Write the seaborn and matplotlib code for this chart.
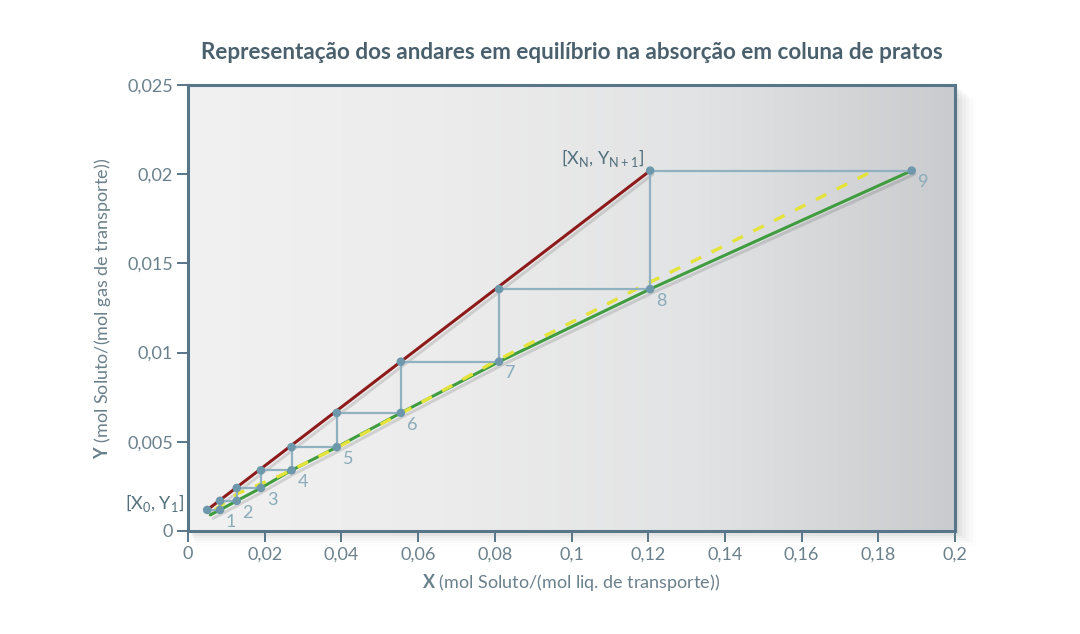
import matplotlib
matplotlib.use("Agg")
import matplotlib.pyplot as plt
import matplotlib.patheffects as pe
from matplotlib.colors import LinearSegmentedColormap
from matplotlib.patches import Rectangle
import numpy as np
import seaborn as sns

# composições
x_andar = [0.005, 0.00834, 0.0127, 0.019, 0.027, 0.0388, 0.0555, 0.0811, 0.1205, 0.1887]  # X0..X9
y_andar = [0.00118, 0.00169, 0.00241, 0.0034, 0.0047, 0.00662, 0.00949, 0.01356, 0.0202]  # Y1..Y9
rotulos = ["1", "2", "3", "4", "5", "6", "7", "8", "9"]

# linha de equilíbrio (verde) e curva tracejada (amarela)
x_eq_ini = [0.0058]
y_eq_ini = [0.0009]
x_curva = [0.007, 0.013, 0.024, 0.04, 0.06, 0.08, 0.1, 0.12, 0.135, 0.1778]
y_curva = [0.0012, 0.0021, 0.0031, 0.0048, 0.0071, 0.0095, 0.0117, 0.0139, 0.01547, 0.0201]

x_ticks = [0, 0.02, 0.04, 0.06, 0.08, 0.1, 0.12, 0.14, 0.16, 0.18, 0.2]
x_tick_labels = ["0", "0,02", "0,04", "0,06", "0,08", "0,1", "0,12", "0,14", "0,16", "0,18", "0,2"]
y_ticks = [0, 0.005, 0.01, 0.015, 0.02, 0.025]
y_tick_labels = ["0", "0,005", "0,01", "0,015", "0,02", "0,025"]

sns.set_theme(style="white")
plt.rcParams["font.family"] = ["Lato", "DejaVu Sans"]
plt.rcParams["mathtext.fontset"] = "custom"
plt.rcParams["mathtext.rm"] = "Lato"
plt.rcParams["mathtext.bf"] = "Lato:bold"

cor_eixo = "#58768a"
cor_texto = "#6a808b"
cor_degrau = "#8fb1c1"
cor_ponto = "#6d97aa"

fig = plt.figure(figsize=(10.8, 6.34), dpi=100)
fig.patch.set_facecolor("white")
ax = fig.add_axes([0.1741, 0.1625, 0.7102, 0.7034])

# sombra da caixa
for i, a in enumerate([0.045, 0.035, 0.028, 0.02, 0.014, 0.008]):
    d = (i + 1) * 2.5
    fig.patches.append(Rectangle((0.1741 + d / 1080 * 0.5, 0.1625 - d / 634), 0.7102 + d / 1080 * 0.9, 0.7034,
                                 transform=fig.transFigure, facecolor="black", alpha=a,
                                 edgecolor="none", zorder=-1))

# fundo em degradê
fundo = LinearSegmentedColormap.from_list("fundo", ["#f1f1f1", "#ececec", "#e2e3e4", "#c9cbce"])
ax.imshow(np.linspace(0, 1, 256).reshape(1, -1), extent=[0, 0.2, 0, 0.025], aspect="auto",
          cmap=fundo, zorder=0, interpolation="bicubic")

sombra = [pe.SimpleLineShadow(offset=(2, -2.5), alpha=0.12, shadow_color="black"), pe.Normal()]

# degraus
x_deg = [x_andar[0]]
y_deg = [y_andar[0]]
for k in range(len(y_andar)):
    x_deg.append(x_andar[k + 1])
    y_deg.append(y_andar[k])
    if k + 1 < len(y_andar):
        x_deg.append(x_andar[k + 1])
        y_deg.append(y_andar[k + 1])

# linha de operação (vermelha)
x_op = x_andar[:-1]
y_op = y_andar
sns.lineplot(x=[x_op[0], x_op[-1]], y=[y_op[0], y_op[-1]], ax=ax, color="#8e1b1b",
             linewidth=2.2, sort=False, estimator=None, zorder=3, path_effects=sombra)

# linha de equilíbrio (verde)
sns.lineplot(x=x_eq_ini + x_andar[1:], y=y_eq_ini + y_andar, ax=ax, color="#3f9c3f",
             linewidth=2.2, sort=False, estimator=None, zorder=3, path_effects=sombra)

# curva tracejada (amarela)
sns.lineplot(x=x_curva, y=y_curva, ax=ax, color="#e4e33a", linewidth=2.4,
             sort=False, estimator=None, zorder=3)
ax.lines[-1].set_dashes([3.5, 3.5])

sns.lineplot(x=x_deg, y=y_deg, ax=ax, color=cor_degrau, linewidth=1.6,
             sort=False, estimator=None, zorder=4)

sns.scatterplot(x=x_op + x_andar[1:], y=y_op + y_andar, ax=ax, s=38, color=cor_ponto,
                edgecolor="none", zorder=5)

for xi, yi, r in zip(x_andar[1:], y_andar, rotulos):
    ax.annotate(r, (xi, yi), xytext=(8, -8.5), textcoords="offset points", ha="center",
                va="center", fontsize=13, color="#8aabb9", zorder=6)

ax.annotate(r"[X$_\mathrm{0}$, Y$_\mathrm{1}$]", (x_andar[0], y_andar[0]), xytext=(-17, 5),
            textcoords="offset points", ha="right", va="center", fontsize=13,
            color="#526f7c", annotation_clip=False)
ax.annotate(r"[X$_\mathrm{N}$, Y$_\mathrm{N+1}$]", (x_andar[-2], y_andar[-1]), xytext=(-4, 9),
            textcoords="offset points", ha="right", va="center", fontsize=13,
            color="#526f7c")

ax.set_xlim(0, 0.2)
ax.set_ylim(0, 0.025)
ax.set_xticks(x_ticks)
ax.set_xticklabels(x_tick_labels)
ax.set_yticks(y_ticks)
ax.set_yticklabels(y_tick_labels)
ax.tick_params(direction="out", length=8, width=1.4, color=cor_eixo, labelcolor=cor_texto,
               labelsize=13, pad=3)
ax.tick_params(axis="y", left=True)
ax.tick_params(axis="x", bottom=True)
for lado in ax.spines.values():
    lado.set_color(cor_eixo)
    lado.set_linewidth(2.2)

ax.set_xlabel(r"$\mathbf{X}$ (mol Soluto/(mol liq. de transporte))", fontsize=13,
              color=cor_texto, labelpad=7)
ax.set_ylabel(r"$\mathbf{Y}$ (mol Soluto/(mol gas de transporte))", fontsize=13,
              color=cor_texto, labelpad=10)
ax.set_title("Representação dos andares em equilíbrio na absorção em coluna de pratos",
             fontsize=16.2, fontweight="bold", color="#4a616d", pad=19)

fig.savefig("out.png", dpi=100)
